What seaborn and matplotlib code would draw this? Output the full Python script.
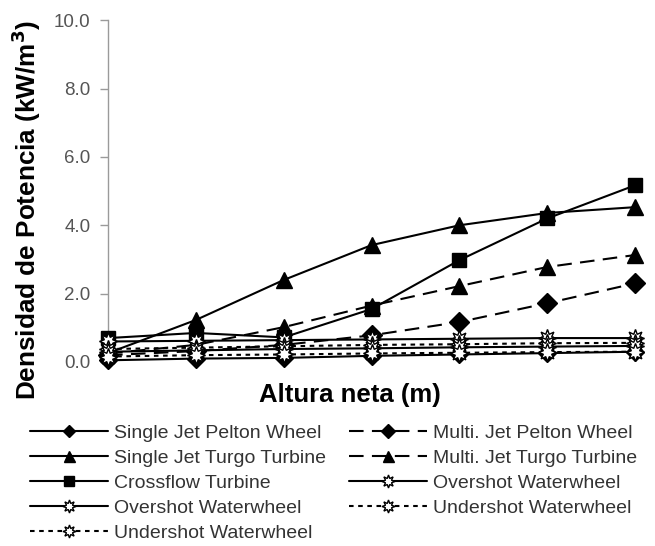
import matplotlib
matplotlib.use("Agg")
import matplotlib.pyplot as plt
import seaborn as sns
import pandas as pd

sns.set_theme(style="white")
plt.rcParams["font.family"] = ["Liberation Sans", "DejaVu Sans"]

# Net head sample points (no tick labels are shown on the x axis)
altura_neta = [1, 2, 3, 4, 5, 6, 7]

# Power density (kW/m^3) per turbine type
single_jet_pelton = [0.05, 0.10, 0.12, 0.18, 0.22, 0.26, 0.30]
single_jet_turgo = [0.26, 1.23, 2.40, 3.42, 4.00, 4.36, 4.53]
crossflow = [0.70, 0.85, 0.72, 1.55, 2.98, 4.20, 5.17]
overshot_a = [0.60, 0.62, 0.64, 0.66, 0.68, 0.70, 0.70]
undershot_a = [0.38, 0.42, 0.46, 0.50, 0.52, 0.55, 0.56]
multi_jet_pelton = [0.20, 0.32, 0.50, 0.78, 1.17, 1.72, 2.30]
multi_jet_turgo = [0.25, 0.50, 1.02, 1.65, 2.22, 2.78, 3.13]
overshot_b = [0.30, 0.34, 0.38, 0.40, 0.43, 0.45, 0.47]
undershot_b = [0.16, 0.20, 0.22, 0.25, 0.27, 0.29, 0.30]

series_names = [
    "Single Jet Pelton Wheel",
    "Single Jet Turgo Turbine",
    "Crossflow Turbine",
    "Overshot Waterwheel",
    "Undershot Waterwheel",
    "Multi. Jet Pelton Wheel",
    "Multi. Jet Turgo Turbine",
    "Overshot Waterwheel",
    "Undershot Waterwheel",
]
series_values = [
    single_jet_pelton, single_jet_turgo, crossflow, overshot_a, undershot_a,
    multi_jet_pelton, multi_jet_turgo, overshot_b, undershot_b,
]

wheel = (8, 1, 0)
solid = ""
long_dash = (7, 4)
short_dash = (2.2, 2.2)
styles = [
    ("D", 9, "black", solid, 4),
    ("^", 11, "black", solid, 3),
    ("s", 10, "black", solid, 3),
    (wheel, 13, "white", solid, 5),
    (wheel, 13, "white", short_dash, 5),
    ("D", 10, "black", long_dash, 3),
    ("^", 11, "black", long_dash, 3),
    (wheel, 13, "white", solid, 5),
    (wheel, 13, "white", short_dash, 5),
]

fig = plt.figure(figsize=(6.55, 5.46), dpi=100)
ax = fig.add_axes([0.165, 0.337, 0.814, 0.626])

handles = []
for name, vals, (mk, ms, face, dash, z) in zip(series_names, series_values, styles):
    df = pd.DataFrame({"altura": altura_neta, "densidad": vals})
    before = len(ax.lines)
    sns.lineplot(data=df, x="altura", y="densidad", ax=ax, color="black",
                 linewidth=1.5, marker=mk, markersize=ms,
                 markerfacecolor=face, markeredgecolor="black",
                 markeredgewidth=1.0, label=name, legend=False, zorder=z)
    line = ax.lines[before]
    if dash:
        line.set_dashes(dash)
    line.set_clip_on(False)
    handles.append(line)

ax.set_xlim(1, 7.07)
ax.set_ylim(0, 10)
ax.set_yticks([0, 2, 4, 6, 8, 10])
ax.set_yticklabels(["0.0", "2.0", "4.0", "6.0", "8.0", "10.0"])
ax.set_xticks([])
for side in ("top", "right", "bottom"):
    ax.spines[side].set_visible(False)
ax.spines["left"].set_color("#9a9a9a")
ax.spines["left"].set_linewidth(1.0)
ax.tick_params(axis="y", which="major", left=True, length=6, width=1.0,
               color="#9a9a9a", labelcolor="#555555", labelsize=13.5, pad=6.5)

ax.set_ylabel("Densidad de Potencia (kW/m$^{\\mathbf{3}}$)", fontsize=18.8,
              fontweight="bold", color="black")
ax.yaxis.set_label_coords(-0.122, 0.445)
ax.set_xlabel("Altura neta (m)", fontsize=18.5, fontweight="bold", color="black")
ax.xaxis.set_label_coords(0.454, -0.062)

fig.legend(handles=handles, labels=series_names, ncol=2, frameon=False,
           loc="upper left", bbox_to_anchor=(30 / 655, 1 - 424 / 546),
           bbox_transform=fig.transFigure, fontsize=14, handlelength=4.0,
           handletextpad=0.3, columnspacing=1.2, labelspacing=0.38,
           borderpad=0, borderaxespad=0, labelcolor="#333333",
           markerscale=0.72)

fig.savefig("out.png", dpi=100)
